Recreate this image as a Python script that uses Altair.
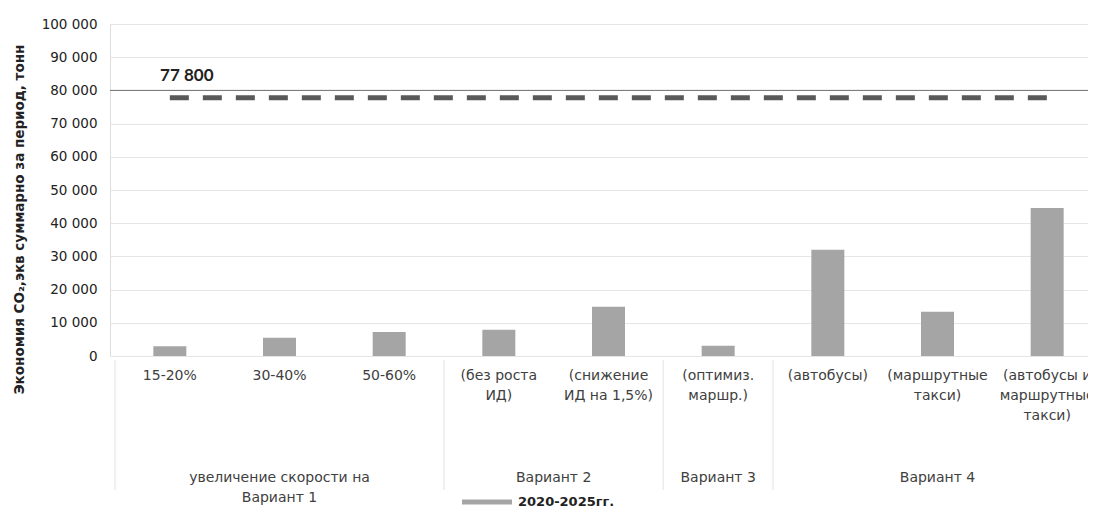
import altair as alt
import pandas as pd

# ---- data ----
categories = [
    "15-20%",
    "30-40%",
    "50-60%",
    "(без роста\nИД)",
    "(снижение\nИД на 1,5%)",
    "(оптимиз.\nмаршр.)",
    "(автобусы)",
    "(маршрутные\nтакси)",
    "(автобусы и\nмаршрутные\nтакси)",
]
values = [2900, 5500, 7200, 7900, 14800, 3100, 32000, 13300, 44600]
series_name = "2020-2025гг."

groups = ["увеличение скорости на\nВариант 1", "Вариант 2", "Вариант 3", "Вариант 4"]
group_sizes = [3, 2, 1, 3]

target_value = 77800
target_label = "77 800"
ref_line = [80000]

y_ticks = list(range(0, 100001, 10000))

# ---- derived tables ----
n = len(categories)
pos = [i + 0.5 for i in range(n)]
df = pd.DataFrame({"pos": pos, "value": values, "label": categories,
                   "series": [series_name] * n})

starts, centers = [], []
s = 0
for g in group_sizes:
    starts.append(s)
    centers.append(s + g / 2)
    s += g
gdf = pd.DataFrame({"pos": centers, "label": groups})
sdf = pd.DataFrame({"pos": starts})
tdf = pd.DataFrame({"x0": [pos[0]], "x1": [pos[-1]], "target": [target_value],
                    "label": [target_label]})
rdf = pd.DataFrame({"y": ref_line})

W, H = 978, 332
xscale = alt.Scale(domain=[0, W / 110.8], nice=False, zero=False)
yscale = alt.Scale(domain=[0, 100000], nice=False)

FONT = "DejaVu Sans"

yaxis = alt.Axis(values=y_ticks, labelOverlap=False,
                 title="Экономия CO₂,экв суммарно за период, тонн",
                 labelExpr="replace(format(datum.value, ',d'), ',', ' ')",
                 grid=True, gridColor="#e6e6e6", ticks=False, domain=False,
                 labelPadding=13, labelFont=FONT, labelFontSize=13.5,
                 labelColor="#222222",
                 titleFont=FONT, titleFontSize=13.5, titleFontWeight="bold",
                 titleColor="#222222", titleX=-91, titleY=195,
                 titleAngle=270, titleAlign="center", titleBaseline="middle")

bars = alt.Chart(df).mark_bar(size=33).encode(
    x=alt.X("pos:Q", scale=xscale, axis=None),
    y=alt.Y("value:Q", scale=yscale, axis=yaxis),
    color=alt.Color("series:N", scale=alt.Scale(range=["#a5a5a5"]),
                    legend=alt.Legend(orient="none", legendX=352, legendY=453, title=None,
                                      symbolType="M-1,-0.1L1,-0.1L1,0.1L-1,0.1Z",
                                      symbolSize=2500, symbolStrokeWidth=0,
                                      labelFont=FONT, labelFontSize=13,
                                      labelFontWeight="bold", labelColor="#222222",
                                      labelOffset=6)),
)

seps = alt.Chart(sdf).mark_rule(color="#ebebeb", strokeWidth=1.5).encode(
    x=alt.X("pos:Q", scale=xscale, axis=None), y=alt.value(336), y2=alt.value(466))

cat_text = alt.Chart(df).mark_text(lineBreak="\n", baseline="top", align="center",
                                   font=FONT, fontSize=14, lineHeight=20,
                                   color="#404040").encode(
    x=alt.X("pos:Q", scale=xscale, axis=None), y=alt.value(345), text="label:N")

grp_text = alt.Chart(gdf).mark_text(lineBreak="\n", baseline="bottom", align="center",
                                    font=FONT, fontSize=14, lineHeight=20,
                                    color="#404040").encode(
    x=alt.X("pos:Q", scale=xscale, axis=None), y=alt.value(461), text="label:N")

ref = alt.Chart(rdf).mark_rule(color="#707070", strokeWidth=1).encode(
    y=alt.Y("y:Q", scale=yscale, axis=yaxis))

target = alt.Chart(tdf).mark_rule(color="#595959", strokeWidth=5,
                                  strokeDash=[19, 14]).encode(
    x=alt.X("x0:Q", scale=xscale, axis=None), x2="x1:Q",
    y=alt.Y("target:Q", scale=yscale, axis=yaxis))

target_txt = alt.Chart(tdf).mark_text(font="Lato", fontWeight="bold", fontSize=17,
                                      align="center", baseline="middle", dx=17, dy=-22,
                                      color="#222222").encode(
    x=alt.X("x0:Q", scale=xscale, axis=None),
    y=alt.Y("target:Q", scale=yscale, axis=yaxis), text="label:N")

chart = alt.layer(bars, seps, cat_text, grp_text, ref, target, target_txt).properties(
    width=W, height=H,
    autosize=alt.AutoSizeParams(type="none"),
    padding={"left": 102, "top": 16, "right": 0, "bottom": 155},
).configure_view(stroke=None).configure(background="white")

chart.save("out.html", embed_options={"renderer": "svg", "actions": False})
